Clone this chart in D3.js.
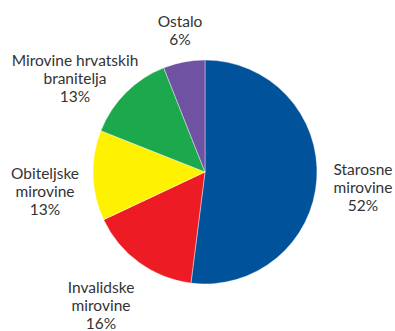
<!DOCTYPE html>
<html><head><meta charset="utf-8">
<script src="https://cdn.jsdelivr.net/npm/d3@7"></script>
<style>body{margin:0;background:#fff}svg{display:block}</style>
</head><body>
<svg id="c" width="395" height="331"></svg>
<script>
const categories = ["Starosne mirovine", "Invalidske mirovine", "Obiteljske mirovine", "Mirovine hrvatskih branitelja", "Ostalo"];
const values = [52, 16, 13, 13, 6];
const labelLines = [["Starosne","mirovine","52%"],["Invalidske","mirovine","16%"],["Obiteljske","mirovine","13%"],["Mirovine hrvatskih","branitelja","13%"],["Ostalo","6%"]];
const colors = ["#00539b", "#ed1c24", "#fff200", "#1ca84c", "#6f52a1"];

const svg = d3.select("#c");
const cx = 205, cy = 172, r = 112;
const g = svg.append("g").attr("transform", `translate(${cx},${cy})`);
const pie = d3.pie().sort(null).value(d => d)(values);
const arc = d3.arc().innerRadius(0).outerRadius(r);
g.selectAll("path").data(pie).join("path")
  .attr("d", arc).attr("fill", (d,i) => colors[i])
  .attr("stroke", "#fff").attr("stroke-width", 0.4);

// label anchor positions (baseline of first line) relative to pie centre
const labelPos = [[158, 3], [-104, 121], [-160, 7], [-130, -106], [-25, -145]];
const lh = 18.2;
labelLines.forEach((lines, i) => {
  const t = g.append("text")
    .attr("text-anchor", "middle")
    .attr("font-family", "Lato, sans-serif")
    .attr("font-size", 15.5)
    .attr("fill", "#333");
  lines.forEach((s, j) => {
    t.append("tspan").attr("x", labelPos[i][0]).attr("y", labelPos[i][1] + j * lh).text(s);
  });
});
</script>
</body></html>
